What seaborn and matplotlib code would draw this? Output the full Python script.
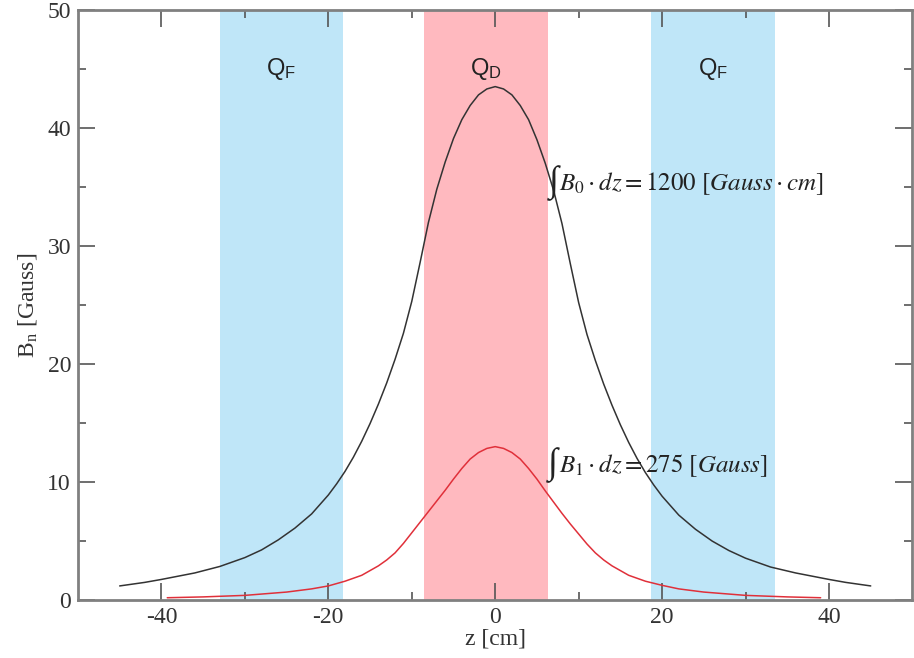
import numpy as np
import pandas as pd
import matplotlib
matplotlib.use("Agg")
import matplotlib.pyplot as plt
import seaborn as sns

# field profiles: z [cm], B [Gauss]
z_b0 = [-45.0, -42.0, -40.0, -36.0, -33.0, -30.0, -28.0, -26.0, -24.0, -22.0, -20.0, -19.0, -18.0,
        -17.0, -16.0, -15.0, -14.0, -13.0, -12.0, -11.0, -10.0, -9.0, -8.0, -7.0, -6.0, -5.0,
        -4.0, -3.0, -2.0, -1.0, 0.0, 1.0, 2.0, 3.0, 4.0, 5.0, 6.0, 7.0, 8.0, 9.0, 10.0, 11.0,
        12.0, 13.0, 14.0, 15.0, 16.0, 17.0, 18.0, 19.0, 20.0, 22.0, 24.0, 26.0, 28.0, 30.0,
        33.0, 36.0, 40.0, 42.0, 45.0]
b0 = [1.2, 1.5, 1.75, 2.3, 2.85, 3.6, 4.25, 5.1, 6.1, 7.3, 8.9, 9.85, 10.9,
      12.1, 13.45, 14.95, 16.6, 18.4, 20.4, 22.6, 25.3, 28.6, 32.0, 34.8, 37.1, 39.1,
      40.7, 41.9, 42.8, 43.3, 43.5, 43.3, 42.8, 41.9, 40.7, 39.0, 37.0, 34.7, 31.9, 28.5, 25.2, 22.5,
      20.3, 18.3, 16.5, 14.85, 13.35, 12.0, 10.8, 9.75, 8.8, 7.2, 6.0, 5.0, 4.2, 3.55,
      2.8, 2.3, 1.75, 1.5, 1.2]

z_b1 = [-39.3, -35.0, -30.0, -25.0, -22.0, -20.0, -18.0, -16.0, -15.0, -14.0, -13.0, -12.0,
        -11.0, -10.0, -9.0, -8.0, -7.0, -6.0, -5.0, -4.0, -3.0, -2.0, -1.0, 0.0, 1.0, 2.0,
        3.0, 4.0, 5.0, 6.0, 7.0, 8.0, 9.0, 10.0, 11.0, 12.0, 13.0, 14.0, 15.0, 16.0, 18.0,
        20.0, 22.0, 25.0, 30.0, 35.0, 39.0]
b1 = [0.2, 0.27, 0.4, 0.68, 0.95, 1.2, 1.6, 2.1, 2.5, 2.9, 3.4, 4.0,
      4.8, 5.7, 6.6, 7.5, 8.4, 9.3, 10.25, 11.15, 11.95, 12.5, 12.85, 13.0, 12.85, 12.5,
      11.95, 11.15, 10.25, 9.25, 8.3, 7.35, 6.45, 5.6, 4.75, 4.0, 3.4, 2.9, 2.5, 2.1, 1.6,
      1.25, 0.95, 0.68, 0.4, 0.27, 0.2]

# quadrupole regions
quad_names = ["F", "D", "F"]
quad_start = [-33.0, -8.5, 18.7]
quad_end = [-18.2, 6.3, 33.5]
quad_colors = {"F": "#bfe6f8", "D": "#ffb9bf"}

df0 = pd.DataFrame({"z": z_b0, "B": b0})
df1 = pd.DataFrame({"z": z_b1, "B": b1})

sns.set_style("ticks")
plt.rcParams["font.family"] = ["Liberation Serif", "DejaVu Serif"]
plt.rcParams["mathtext.fontset"] = "stix"
plt.rcParams["axes.unicode_minus"] = False

fig = plt.figure(figsize=(9.14, 6.58), dpi=100)
ax = fig.add_axes([0.0853, 0.088, 0.913, 0.897])

for name, a, b in zip(quad_names, quad_start, quad_end):
    ax.axvspan(a, b, color=quad_colors[name], lw=0, zorder=0)
    ax.text((a + b) / 2, 45.0, r"Q$_\mathregular{" + name + "}$", ha="center", va="center",
            fontsize=17, color="#222222", family=["Liberation Sans", "DejaVu Sans"])

sns.lineplot(data=df0, x="z", y="B", color="#333333", lw=1.1, ax=ax)
sns.lineplot(data=df1, x="z", y="B", color="#e0303a", lw=1.1, ax=ax)

# integral labels: big upright integral sign, then the expression
for zx, yb, expr in [(7.6, 35.3, r"$B_0 \cdot dz = 1200\ [Gauss \cdot cm]$"),
                     (7.5, 11.4, r"$B_1 \cdot dz = 275\ [Gauss]$")]:
    ax.text(zx, yb, "\u222b", fontsize=26, va="center", ha="right", color="#222222")
    ax.text(zx + 0.1, yb, expr, fontsize=18, va="center", ha="left", color="#222222")

ax.set_xlim(-50, 50)
ax.set_ylim(0, 50)
ax.set_xticks([-40, -20, 0, 20, 40])
ax.set_yticks([0, 10, 20, 30, 40, 50])
ax.set_xticks(np.arange(-40, 41, 10), minor=True)
ax.set_yticks(np.arange(0, 51, 5), minor=True)
ax.tick_params(which="both", direction="in", top=True, right=True, color="#555555",
               labelsize=17, labelcolor="#333333", width=1.2)
ax.tick_params(which="major", length=12, pad=5)
ax.tick_params(which="minor", length=6)
for s in ax.spines.values():
    s.set_color("#808080")
    s.set_linewidth(2)

ax.set_xlabel("z [cm]", fontsize=17, color="#333333", labelpad=0)
ax.set_ylabel(r"B$_\mathregular{n}$ [Gauss]", fontsize=17, color="#333333", labelpad=6)

fig.savefig("out.png", dpi=100)
